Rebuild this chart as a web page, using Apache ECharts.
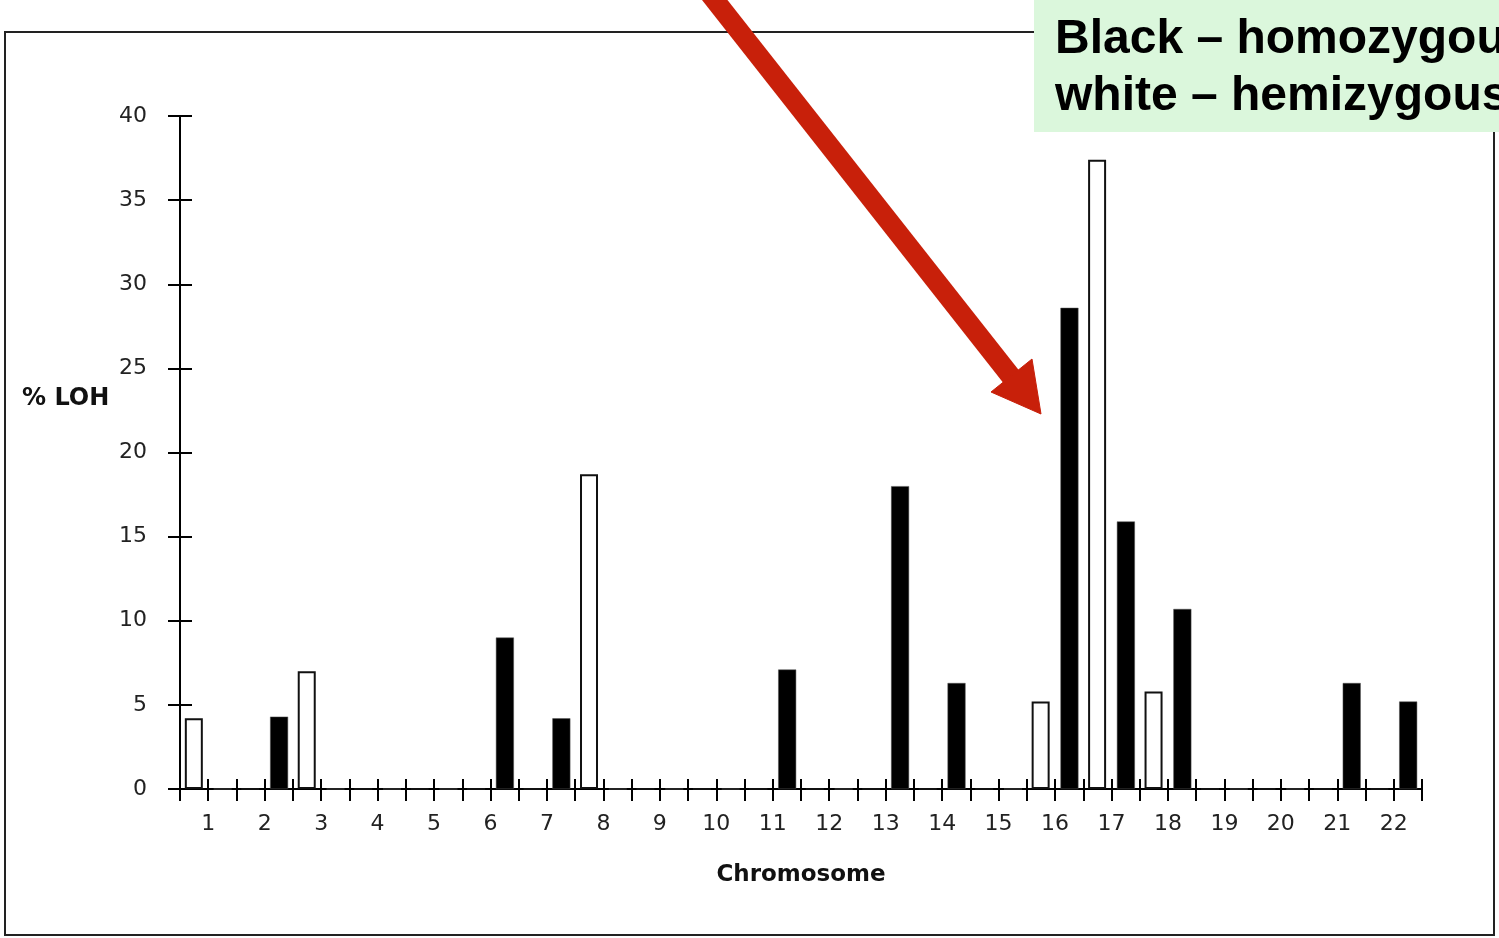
<!DOCTYPE html>
<html>
<head>
<meta charset="utf-8">
<title>% LOH by chromosome</title>
<script src="https://cdn.jsdelivr.net/npm/echarts@6/dist/echarts.min.js"></script>
<style>
  html, body { margin: 0; padding: 0; background: #ffffff; }
  #chart { width: 1499px; height: 938px; }
</style>
</head>
<body>
<div id="chart"></div>
<script>
// Chromosome numbers along the x axis
const chromosomes = ['1', '2', '3', '4', '5', '6', '7', '8', '9', '10', '11',
                     '12', '13', '14', '15', '16', '17', '18', '19', '20', '21', '22'];

// % LOH, hemizygous (white bars)
const hemizygous = [4.2, 0, 7.0, 0, 0, 0, 0, 18.7, 0, 0, 0,
                    0, 0, 0, 0, 5.2, 37.4, 5.8, 0, 0, 0, 0];

// % LOH, homozygous (black bars)
const homozygous = [0, 4.3, 0, 0, 0, 9.0, 4.2, 0, 0, 0, 7.1,
                    0, 18.0, 6.3, 0, 28.6, 15.9, 10.7, 0, 0, 6.3, 5.2];

// Y axis range and step
const yMin = 0;
const yMax = 40;
const yStep = 5;

// Each chromosome has two slots (hemizygous, homozygous); ticks mark every slot
const slots = chromosomes.flatMap(c => [c + 'h', c + 'H']);

const chart = echarts.init(document.getElementById('chart'), null, { renderer: 'canvas' });

const tickFont = { fontFamily: 'DejaVu Sans', fontSize: 22, color: '#222' };
const tickLine = { color: '#000', width: 2 };

// Extra category axis used only for the slot ticks (one above, one below the line)
const slotAxis = (inside, len) => ({
  type: 'category',
  data: slots,
  position: 'bottom',
  offset: 0,
  gridIndex: 0,
  boundaryGap: true,
  axisLine: { show: true, lineStyle: tickLine },
  axisTick: { show: true, inside: inside, length: len, interval: 0, lineStyle: tickLine },
  axisLabel: { show: false },
  splitLine: { show: false }
});

// Extra value axis used only for the right-hand half of the crossing y ticks
const valueTickAxis = (inside, len) => ({
  type: 'value',
  position: 'left',
  offset: 0,
  gridIndex: 0,
  min: yMin, max: yMax, interval: yStep,
  axisLine: { show: true, lineStyle: tickLine },
  axisTick: { show: true, inside: inside, length: len, lineStyle: tickLine },
  axisLabel: { show: false },
  splitLine: { show: false }
});

const option = {
  backgroundColor: '#ffffff',
  animation: false,
  grid: { left: 180, right: 77, top: 116, bottom: 149, containLabel: false },
  xAxis: [
    {
      type: 'category',
      data: chromosomes,
      position: 'bottom',
      boundaryGap: true,
      axisLine: { show: true, lineStyle: tickLine },
      axisTick: { show: false },
      axisLabel: Object.assign({ margin: 24, interval: 0 }, tickFont),
      splitLine: { show: false },
      name: 'Chromosome',
      nameLocation: 'middle',
      nameGap: 86,
      nameTextStyle: {
        fontFamily: 'DejaVu Sans', fontWeight: 'bold', fontSize: 23,
        color: '#111', verticalAlign: 'middle'
      }
    },
    slotAxis(false, 12),
    slotAxis(true, 10)
  ],
  yAxis: [
    {
      type: 'value',
      position: 'left',
      min: yMin, max: yMax, interval: yStep,
      axisLine: { show: true, lineStyle: tickLine },
      axisTick: { show: true, inside: false, length: 12, lineStyle: tickLine },
      axisLabel: Object.assign({ margin: 33 }, tickFont),
      splitLine: { show: false }
    },
    valueTickAxis(true, 12)
  ],
  series: [
    {
      name: 'hemizygous',
      type: 'bar',
      xAxisIndex: 0,
      yAxisIndex: 0,
      data: hemizygous,
      barWidth: 18,
      barGap: '60%',
      itemStyle: { color: '#ffffff', borderColor: '#111', borderWidth: 2 },
      z: 3
    },
    {
      name: 'homozygous',
      type: 'bar',
      xAxisIndex: 0,
      yAxisIndex: 0,
      data: homozygous,
      barWidth: 18,
      barGap: '60%',
      itemStyle: { color: '#000000', borderColor: '#555', borderWidth: 0.5 },
      z: 3
    }
  ],
  graphic: [
    // outer frame of the figure
    {
      type: 'rect',
      shape: { x: 5, y: 32, width: 1489, height: 903 },
      style: { fill: 'none', stroke: '#222', lineWidth: 2 },
      z: 1
    },
    // y axis title
    {
      type: 'text',
      left: 22,
      top: 387,
      style: {
        text: '% LOH',
        fontFamily: 'DejaVu Sans', fontWeight: 'bold', fontSize: 24, fill: '#111'
      },
      z: 5
    },
    // key box
    {
      type: 'rect',
      shape: { x: 1034, y: 0, width: 470, height: 132 },
      style: { fill: '#dbf7dc', stroke: 'none' },
      z: 10
    },
    {
      type: 'text',
      x: 1055,
      y: 40,
      style: {
        text: 'Black \u2013 homozygous',
        fontFamily: 'Liberation Sans', fontWeight: 'bold', fontSize: 48,
        fill: '#000', verticalAlign: 'middle'
      },
      z: 11
    },
    {
      type: 'text',
      x: 1055,
      y: 97,
      style: {
        text: 'white \u2013 hemizygous',
        fontFamily: 'Liberation Sans', fontWeight: 'bold', fontSize: 48,
        fill: '#000', verticalAlign: 'middle'
      },
      z: 11
    },
    // pointer arrow: shaft and head
    {
      type: 'line',
      shape: { x1: 699, y1: -20, x2: 1013, y2: 379 },
      style: { stroke: '#c8200a', lineWidth: 20 },
      z: 12
    },
    {
      type: 'polygon',
      shape: { points: [[1041, 414], [991, 392], [1032, 359]] },
      style: { fill: '#c8200a', stroke: '#c8200a', lineWidth: 1 },
      z: 12
    }
  ]
};

chart.setOption(option);
</script>
</body>
</html>
